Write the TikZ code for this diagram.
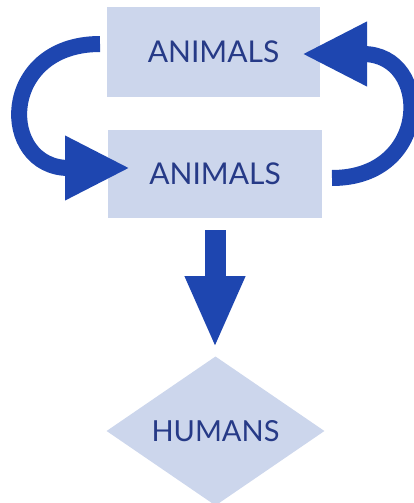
\documentclass[tikz,border=0pt]{standalone}
\usepackage{fontspec}
\setmainfont{Lato}
\usetikzlibrary{shapes.geometric,arrows.meta}
\definecolor{arrowblue}{RGB}{30,70,176}
\definecolor{textblue}{RGB}{38,58,135}
\definecolor{boxfill}{RGB}{204,214,236}
\tikzset{
  animbox/.style={rectangle, fill=boxfill, inner sep=0pt, text=textblue, font=\fontsize{30}{32}\selectfont},
  humdia/.style={diamond, fill=boxfill, inner sep=0pt, text=textblue, font=\fontsize{29}{31}\selectfont},
  curvedarrow/.style={draw=arrowblue, line width=16pt, -{Triangle[length=65pt,width=60pt]}, arrowblue},
  downarrow/.style={draw=arrowblue, line width=21pt, -{Triangle[length=72pt,width=55pt]}, arrowblue}
}
\begin{document}
\begin{tikzpicture}[x=1pt,y=-1pt]
\useasboundingbox (0,0) rectangle (414,503);
\node[animbox, minimum width=213pt, minimum height=90pt] (top) at (213.5,52) {ANIMALS};
\node[animbox, minimum width=214pt, minimum height=88pt] (mid) at (215,174) {ANIMALS};
\node[humdia, minimum width=218pt, minimum height=142pt] (hum) at (215.5,431) {HUMANS};
\coordinate (ls) at (100,44);
\coordinate (lt) at (130,168);
\coordinate (rs) at (332,178);
\coordinate (rt) at (302,54);
\draw[curvedarrow] (ls) .. controls (-2,44) and (-2,168) .. (lt);
\draw[curvedarrow] (rs) .. controls (432,178) and (432,54) .. (rt);
\draw[downarrow, shorten <=12pt, shorten >=8pt] (mid.south) -- (mid.south |- hum.north);
\end{tikzpicture}
\end{document}
